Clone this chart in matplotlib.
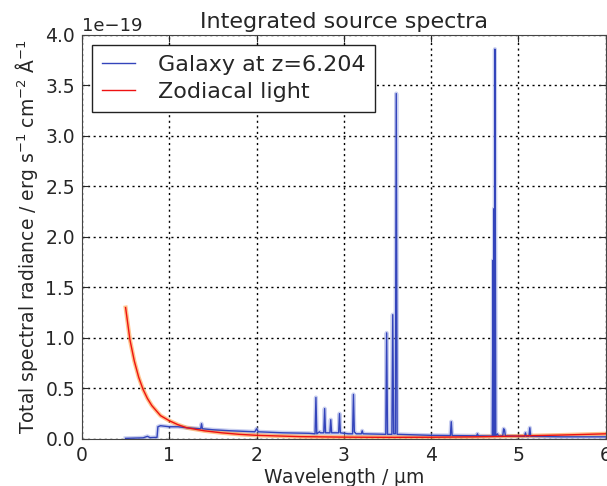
import numpy as np
import matplotlib
matplotlib.use("Agg")
import matplotlib.pyplot as plt

# galaxy spectrum (wavelength in um, flux in 1e-19)
galaxy_wl = [0.50, 0.70, 0.75, 0.78, 0.86, 0.87, 0.90, 0.95, 1.00, 1.10, 1.20,
             1.36, 1.37, 1.38, 1.50, 1.70, 1.98, 2.00, 2.02, 2.30, 2.60,
             2.67, 2.68, 2.69, 2.72, 2.73, 2.77, 2.78, 2.79, 2.84, 2.85, 2.86,
             2.94, 2.95, 2.96, 3.05, 3.10, 3.11, 3.12, 3.14, 3.20, 3.21, 3.22,
             3.48, 3.49, 3.50, 3.55, 3.56, 3.57, 3.59, 3.60, 3.61, 3.80, 4.00,
             4.22, 4.23, 4.24, 4.52, 4.53, 4.54, 4.70, 4.71, 4.715, 4.72, 4.725,
             4.73, 4.74, 4.76, 4.77, 4.82, 4.83, 4.84, 4.85, 5.07, 5.08, 5.09,
             5.12, 5.13, 5.14, 5.50, 6.00]
galaxy_flux = [0.005, 0.010, 0.025, 0.012, 0.015, 0.120, 0.130, 0.125, 0.120, 0.120, 0.110,
               0.100, 0.150, 0.100, 0.090, 0.080, 0.070, 0.100, 0.070, 0.060, 0.055,
               0.050, 0.410, 0.050, 0.070, 0.060, 0.060, 0.300, 0.060, 0.060, 0.190, 0.060,
               0.060, 0.250, 0.060, 0.050, 0.050, 0.440, 0.070, 0.050, 0.050, 0.080, 0.050,
               0.045, 1.050, 0.045, 0.045, 1.230, 0.050, 0.050, 3.420, 0.045, 0.040, 0.035,
               0.033, 0.170, 0.033, 0.030, 0.050, 0.030, 0.028, 1.770, 0.030, 2.280, 0.030,
               3.860, 0.030, 0.050, 0.028, 0.030, 0.100, 0.090, 0.030, 0.025, 0.060, 0.025,
               0.025, 0.110, 0.025, 0.020, 0.020]

# zodiacal light
zodi_wl = [0.50, 0.55, 0.60, 0.65, 0.70, 0.75, 0.80, 0.90, 1.00, 1.10, 1.20, 1.40,
           1.60, 1.80, 2.00, 2.50, 3.00, 3.50, 4.00, 4.50, 5.00, 5.50, 6.00]
zodi_flux = [1.30, 0.98, 0.77, 0.61, 0.49, 0.40, 0.33, 0.23, 0.18, 0.14, 0.11, 0.08,
             0.06, 0.045, 0.035, 0.022, 0.017, 0.015, 0.016, 0.020, 0.028, 0.038, 0.050]

scale = 1e-19
gx = np.array(galaxy_wl)
gy = np.array(galaxy_flux) * scale
zx = np.array(zodi_wl)
zy = np.array(zodi_flux) * scale

txt = "#262626"
plt.rcParams['font.family'] = ['DejaVu Sans']
plt.rcParams['text.color'] = txt
plt.rcParams['axes.labelcolor'] = txt
plt.rcParams['xtick.color'] = txt
plt.rcParams['ytick.color'] = txt
plt.rcParams['axes.formatter.use_mathtext'] = False

fig = plt.figure(figsize=(6.07, 4.86), dpi=100)
ax = fig.add_axes([0.135, 0.097, 0.863, 0.831])

ax.plot(gx, gy, color='#8896dd', lw=3, alpha=0.45)
ax.plot(zx, zy, color='#ff9a40', lw=3, alpha=0.6)
ax.plot(gx, gy, color='#3344bb', lw=1.0, label='Galaxy at z=6.204')
ax.plot(zx, zy, color='#ee1111', lw=1.0, label='Zodiacal light')

ax.set_xlim(0, 6)
ax.set_ylim(0, 4.0e-19)
ax.set_xticks(np.arange(0, 7, 1))
ax.set_yticks(np.arange(0, 4.01e-19, 0.5e-19))
ax.grid(True, color='k', linestyle=(0, (1.5, 2.5)), lw=1.0)
ax.tick_params(direction='in', top=True, right=True, length=5, labelsize=13.5, pad=5)
ax.yaxis.get_offset_text().set_fontsize(13)
for s in ax.spines.values():
    s.set_color('#444444')

ax.set_title('Integrated source spectra', fontsize=16, pad=5)
ax.set_xlabel('Wavelength / $\\mathregular{\\mu}$m', fontsize=13.5, labelpad=1)
ax.set_ylabel('Total spectral radiance / erg s$^{-1}$ cm$^{-2}$ Å$^{-1}$', fontsize=13.5,
              labelpad=4)

leg = ax.legend(loc='upper left', fontsize=16, fancybox=False, framealpha=1,
                edgecolor='#222222', handlelength=1.5, handletextpad=1.0,
                borderpad=0.45, labelspacing=0.3, borderaxespad=0.45)
leg.get_frame().set_linewidth(1.0)

fig.savefig('out.png', dpi=100)
